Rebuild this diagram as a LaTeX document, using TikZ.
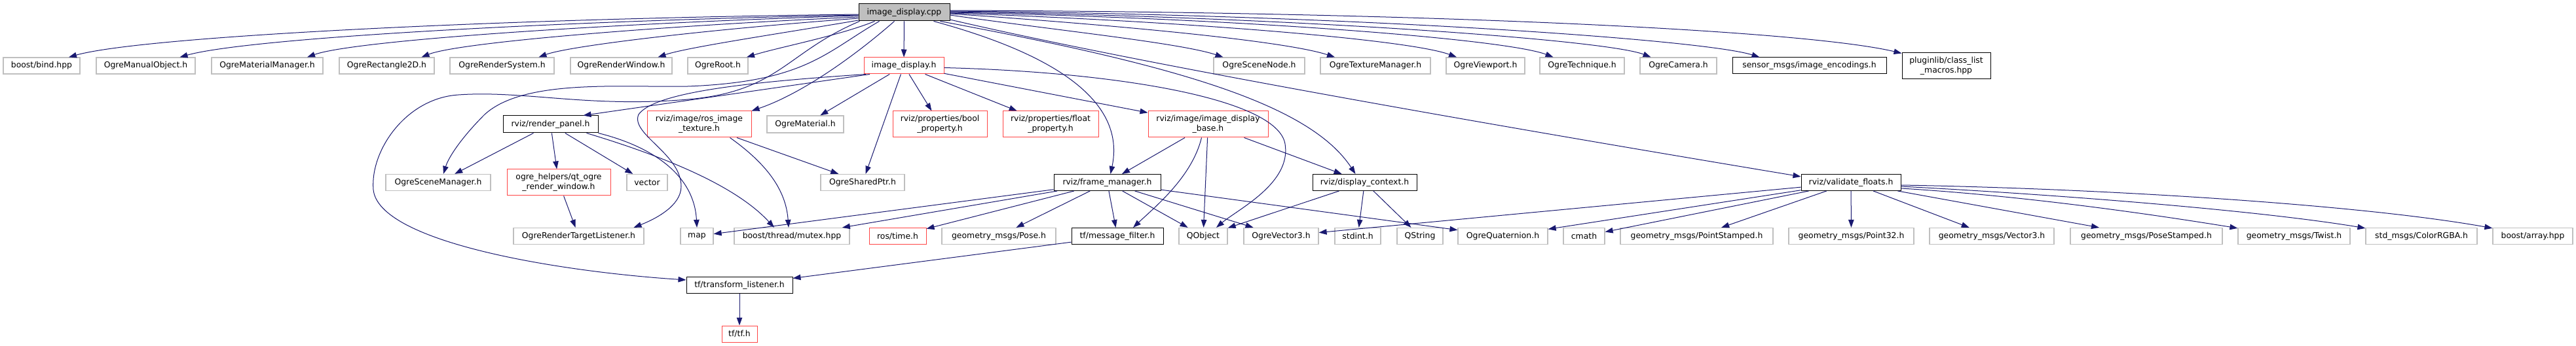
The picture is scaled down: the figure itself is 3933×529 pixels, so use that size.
\documentclass[tikz,border=0pt]{standalone}
\usepackage{fontspec}
\setmainfont{DejaVu Sans}
\usetikzlibrary{arrows.meta}
\definecolor{edgec}{HTML}{191970}
\definecolor{gbord}{HTML}{BFBFBF}
\definecolor{rbord}{HTML}{FF4545}
\definecolor{cppfill}{HTML}{BFBFBF}
\begin{document}
\begin{tikzpicture}[x=1pt,y=-1pt,
  every node/.style={font=\fontsize{12.4}{15}\selectfont, inner sep=0pt, align=center, minimum height=25pt},
  gbox/.style={draw=gbord, line width=1.2pt, fill=white},
  rbox/.style={draw=rbord, line width=1pt, fill=white},
  kbox/.style={draw=black, line width=1pt, fill=white},
  cppbox/.style={draw=black, line width=1pt, fill=cppfill},
  twol/.style={minimum height=40pt},
  conn/.style={draw=edgec, line width=1pt, -{Triangle[length=12pt,width=8.5pt]}}
]
\useasboundingbox[fill=white] (0,0) rectangle (3933,529);

% ---- root
\node[cppbox, minimum width=139pt, minimum height=26pt] (cpp) at (1380.5,19) {image\_display.cpp};

% ---- top row
\node[gbox, minimum width=117pt] (bind) at (63.5,100.5) {boost/bind.hpp};
\node[gbox, minimum width=151pt] (manual) at (222.5,100.5) {OgreManualObject.h};
\node[gbox, minimum width=170pt] (matmgr) at (408,100.5) {OgreMaterialManager.h};
\node[gbox, minimum width=145pt] (rect) at (590.5,100.5) {OgreRectangle2D.h};
\node[gbox, minimum width=159pt] (rsys) at (766.5,100.5) {OgreRenderSystem.h};
\node[gbox, minimum width=155pt] (rwin) at (948.5,100.5) {OgreRenderWindow.h};
\node[gbox, minimum width=92pt] (rootn) at (1096,100.5) {OgreRoot.h};
\node[rbox, minimum width=122pt] (idh) at (1380,100.5) {image\_display.h};
\node[gbox, minimum width=139pt] (snode) at (1922.5,100.5) {OgreSceneNode.h};
\node[gbox, minimum width=168pt] (texmgr) at (2100,100.5) {OgreTextureManager.h};
\node[gbox, minimum width=120pt] (viewport) at (2268,100.5) {OgreViewport.h};
\node[gbox, minimum width=129pt] (technique) at (2415.5,100.5) {OgreTechnique.h};
\node[gbox, minimum width=117pt] (camera) at (2562.5,100.5) {OgreCamera.h};
\node[kbox, minimum width=235pt] (encodings) at (2762.5,100.5) {sensor\_msgs/image\_encodings.h};
\node[kbox, twol, minimum width=135pt] (plugin) at (2971.5,101) {pluginlib/class\_list\\\_macros.hpp};

% ---- second row
\node[kbox, minimum width=145pt, minimum height=26pt] (rp) at (840.5,190) {rviz/render\_panel.h};
\node[rbox, twol, minimum width=159pt] (rit) at (1067.5,190) {rviz/image/ros\_image\\\_texture.h};
\node[gbox, minimum width=117pt, minimum height=26pt] (om) at (1229.5,190) {OgreMaterial.h};
\node[rbox, twol, minimum width=144pt] (bool) at (1435,190) {rviz/properties/bool\\\_property.h};
\node[rbox, twol, minimum width=146pt] (float) at (1604,190) {rviz/properties/float\\\_property.h};
\node[rbox, twol, minimum width=183pt] (base) at (1844.5,190) {rviz/image/image\_display\\\_base.h};

% ---- third row
\node[gbox, minimum width=160pt] (osm) at (669,279) {OgreSceneManager.h};
\node[rbox, twol, minimum width=158pt] (qt) at (853,279) {ogre\_helpers/qt\_ogre\\\_render\_window.h};
\node[gbox, minimum width=62pt] (vector) at (988,279) {vector};
\node[gbox, minimum width=128pt] (osp) at (1317,279) {OgreSharedPtr.h};
\node[kbox, minimum width=163pt] (fm) at (1690.5,279) {rviz/frame\_manager.h};
\node[kbox, minimum width=159pt] (dc) at (2083.5,279) {rviz/display\_context.h};
\node[kbox, minimum width=152pt] (vf) at (2826,279) {rviz/validate\_floats.h};

% ---- fourth row
\node[gbox, minimum width=199pt] (ortl) at (883.5,361) {OgreRenderTargetListener.h};
\node[gbox, minimum width=50pt] (map) at (1064,361) {map};
\node[gbox, minimum width=176pt] (mutex) at (1209,361) {boost/thread/mutex.hpp};
\node[rbox, minimum width=87pt] (rtime) at (1370.5,361) {ros/time.h};
\node[gbox, minimum width=174pt] (pose) at (1525,361) {geometry\_msgs/Pose.h};
\node[kbox, minimum width=140pt] (mf) at (1706,361) {tf/message\_filter.h};
\node[gbox, minimum width=74pt] (qobj) at (1837,361) {QObject};
\node[gbox, minimum width=114pt] (ov3) at (1956,361) {OgreVector3.h};
\node[gbox, minimum width=70pt] (stdint) at (2073,361) {stdint.h};
\node[gbox, minimum width=70pt] (qstr) at (2168,361) {QString};
\node[gbox, minimum width=137pt] (oq) at (2294.5,361) {OgreQuaternion.h};
\node[gbox, minimum width=63pt] (cmath) at (2418.5,361) {cmath};
\node[gbox, minimum width=233pt] (pst) at (2590.5,361) {geometry\_msgs/PointStamped.h};
\node[gbox, minimum width=191pt] (p32) at (2826.5,361) {geometry\_msgs/Point32.h};
\node[gbox, minimum width=190pt] (gv3) at (3041,361) {geometry\_msgs/Vector3.h};
\node[gbox, minimum width=232pt] (posest) at (3277,361) {geometry\_msgs/PoseStamped.h};
\node[gbox, minimum width=171pt] (twist) at (3502.5,361) {geometry\_msgs/Twist.h};
\node[gbox, minimum width=170pt] (crgba) at (3697,361) {std\_msgs/ColorRGBA.h};
\node[gbox, minimum width=122pt] (array) at (3867,361) {boost/array.hpp};

% ---- bottom
\node[kbox, minimum width=162pt] (tl) at (1129,436) {tf/transform\_listener.h};
\node[rbox, minimum width=54pt] (tftf) at (1129,510.5) {tf/tf.h};

% ===== edges from image_display.cpp
\draw[conn] ([yshift=-3pt]cpp.west) .. controls (780,28) and (220,55) .. ([xshift=41.5pt]bind.north);
\draw[conn] ([yshift=-4pt]cpp.west) .. controls (850,32) and (380,58) .. ([xshift=52pt]manual.north);
\draw[conn] ([yshift=-5pt]cpp.west) .. controls (920,36) and (540,62) .. ([xshift=61pt]matmgr.north);
\draw[conn] ([yshift=-7pt]cpp.west) .. controls (1000,40) and (700,65) .. ([xshift=53pt]rect.north);
\draw[conn] ([yshift=-9pt]cpp.west) .. controls (1080,45) and (870,70) .. ([xshift=56pt]rsys.north);
\draw[conn] ([yshift=-12pt]cpp.west) .. controls (1200,50) and (1050,72) .. ([xshift=56pt]rwin.north);
\draw[conn] ([xshift=-45pt]cpp.south) .. controls (1280,55) and (1190,72) .. ([xshift=44pt]rootn.north);
\draw[conn] (cpp) -- (idh);
\draw[conn] ([yshift=-4pt]cpp.east) .. controls (1600,45) and (1800,65) .. ([xshift=-55pt]snode.north);
\draw[conn] ([yshift=-2pt]cpp.east) .. controls (1700,38) and (1960,62) .. ([xshift=-62pt]texmgr.north);
\draw[conn] ([yshift=-1pt]cpp.east) .. controls (1800,32) and (2150,60) .. ([xshift=-44pt]viewport.north);
\draw[conn] (cpp.east) .. controls (1900,28) and (2300,60) .. ([xshift=-44pt]technique.north);
\draw[conn] ([yshift=1pt]cpp.east) .. controls (1950,25) and (2450,60) .. ([xshift=-42pt]camera.north);
\draw[conn] ([yshift=2pt]cpp.east) .. controls (2050,22) and (2600,60) .. ([xshift=-76pt]encodings.north);
\draw[conn] ([yshift=3pt]cpp.east) .. controls (2150,18) and (2750,45) .. ([yshift=-1pt]plugin.north west);
\draw[conn] ([xshift=45pt]cpp.south) .. controls (1600,80) and (1720,150) .. ([xshift=5pt]fm.north);
\draw[conn] ([xshift=55pt]cpp.south) .. controls (1800,100) and (2000,160) .. ([xshift=-14pt]dc.north);
\draw[conn] ([yshift=-11pt]cpp.east) .. controls (1750,100) and (2300,195) .. ([yshift=-4pt]vf.north west);
\draw[conn] ([xshift=-15pt]cpp.south) .. controls (1300,90) and (1220,145) .. (rit.north east);
\draw[conn] ([xshift=2pt]cpp.south west) .. controls (1200,80) and (1190,140) .. (1050,152)
  .. controls (900,165) and (800,138) .. (700,145)
  .. controls (620,150) and (565,230) .. (570,290)
  .. controls (578,370) and (850,415) .. ([yshift=8pt]tl.west);
\draw[conn] ([xshift=-38pt]cpp.south) .. controls (1260,80) and (1230,125) .. (1050,132)
  .. controls (950,134) and (800,120) .. (740,175)
  .. controls (705,210) and (685,240) .. ([xshift=8pt]osm.north);

% ===== edges from image_display.h
\draw[conn] ([xshift=-52pt]idh.south) -- ([xshift=50pt]rp.north);
\draw[conn] ([xshift=-58pt]idh.south) .. controls (1150,125) and (1000,140) .. (975,175)
  .. controls (962,205) and (1040,235) .. (1040,285)
  .. controls (1040,315) and (1000,335) .. ([xshift=84pt]ortl.north);
\draw[conn] (idh) -- (om);
\draw[conn] (idh) -- (bool);
\draw[conn] (idh) -- (float);
\draw[conn] (idh) -- (base);
\draw[conn] (idh) -- (osp);
\draw[conn] ([yshift=-3pt]idh.east) .. controls (1700,110) and (1950,150) .. (1962,220)
  .. controls (1972,280) and (1890,320) .. ([xshift=20pt]qobj.north);

% ===== render_panel
\draw[conn] (rp) -- (osm);
\draw[conn] (rp) -- (qt);
\draw[conn] (rp) -- (vector);
\draw[conn] (rp.south east) .. controls (1000,225) and (1060,270) .. (map.north);
\draw[conn] ([xshift=55pt]rp.south) .. controls (1000,235) and (1120,280) .. ([xshift=-27pt]mutex.north);
\draw[conn] (qt) -- (ortl);

% ===== ros_image_texture
\draw[conn] ([xshift=47pt]rit.south) .. controls (1170,250) and (1200,290) .. ([xshift=-5pt]mutex.north);
\draw[conn] (rit) -- (osp);

% ===== image_display_base
\draw[conn] (base) -- (fm);
\draw[conn] ([xshift=-10pt]base.south) .. controls (1820,270) and (1765,315) .. ([xshift=24pt]mf.north);
\draw[conn] (base) -- (qobj);
\draw[conn] (base) -- (dc);

% ===== frame_manager
\draw[conn] (fm) -- (map);
\draw[conn] (fm) -- (mutex);
\draw[conn] (fm) -- (rtime);
\draw[conn] (fm) -- (pose);
\draw[conn] (fm) -- (mf);
\draw[conn] (fm) -- (qobj);
\draw[conn] (fm) -- (ov3);
\draw[conn] (fm) -- (oq);

% ===== display_context
\draw[conn] (dc) -- (qobj);
\draw[conn] (dc) -- (stdint);
\draw[conn] (dc) -- (qstr);

% ===== validate_floats
\draw[conn] (vf) -- (ov3);
\draw[conn] (vf) -- (oq);
\draw[conn] (vf) -- (cmath);
\draw[conn] (vf) -- (pst);
\draw[conn] (vf) -- (p32);
\draw[conn] (vf) -- (gv3);
\draw[conn] (vf) -- (posest);
\draw[conn] ([yshift=-9pt]vf.east) .. controls (3100,300) and (3300,330) .. ([yshift=-1pt]twist.north west);
\draw[conn] ([yshift=-6pt]vf.east) .. controls (3150,298) and (3450,322) .. ([yshift=-1pt]crgba.north west);
\draw[conn] ([yshift=-4pt]vf.east) .. controls (3200,288) and (3600,312) .. ([yshift=-1pt]array.north west);

% ===== tf
\draw[conn] (mf) -- (tl);
\draw[conn] (tl) -- (tftf);
\end{tikzpicture}
\end{document}
